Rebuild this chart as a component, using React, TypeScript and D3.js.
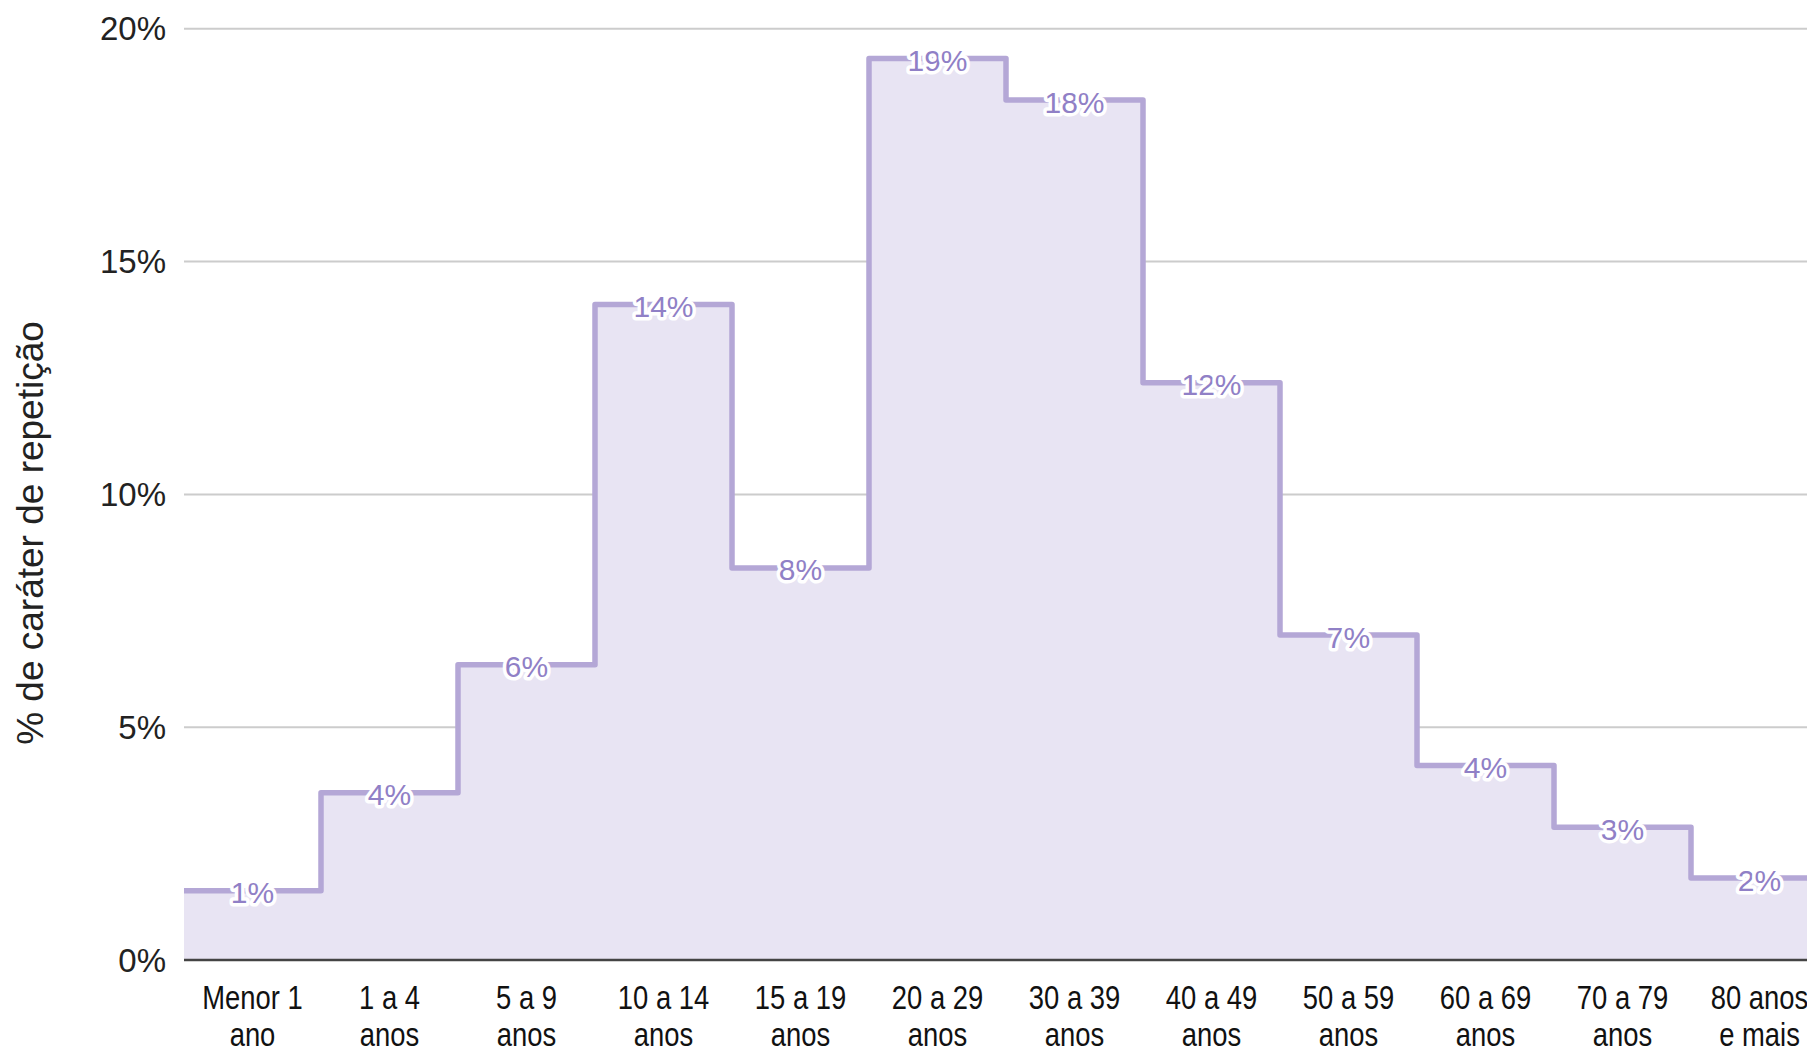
import * as d3 from "d3";

const categories = [
  ["Menor 1", "ano"],
  ["1 a 4", "anos"],
  ["5 a 9", "anos"],
  ["10 a 14", "anos"],
  ["15 a 19", "anos"],
  ["20 a 29", "anos"],
  ["30 a 39", "anos"],
  ["40 a 49", "anos"],
  ["50 a 59", "anos"],
  ["60 a 69", "anos"],
  ["70 a 79", "anos"],
  ["80 anos", "e mais"],
];
const values = [1.49, 3.59, 6.34, 14.08, 8.42, 19.36, 18.47, 12.4, 6.98, 4.18, 2.85, 1.76];
const yTicks = [0, 5, 10, 15, 20];
const yTitle = "% de caráter de repetição";

const W = 1807;
const H = 1052;
const LINE = "#b4a7d6";
const FILL = "#e8e4f3";
const LABEL = "#9080c6";

export default function App() {
  const keys = categories.map((c) => c.join(" "));
  const x = d3.scaleBand().domain(keys).range([184, 184 + 137 * 12]).padding(0);
  const y = d3.scaleLinear().domain([0, 20]).range([960, 28.8]);

  // stepped outline: each category spans its full band
  const pts: [number, number][] = [];
  keys.forEach((k, i) => {
    const x0 = x(k)!;
    pts.push([x0, y(values[i])], [x0 + x.bandwidth(), y(values[i])]);
  });
  const line = d3.line<[number, number]>().x((d) => d[0]).y((d) => d[1]);
  const area = d3
    .area<[number, number]>()
    .x((d) => d[0])
    .y0(y(0))
    .y1((d) => d[1]);

  const [x0, x1] = [184, W];

  return (
    <div style={{ position: "fixed", left: 0, top: 0, width: W, height: H, overflow: "hidden", background: "#fff" }}>
      <svg width={W} height={H} style={{ display: "block" }}>
        {yTicks.map((t) =>
          t === 0 ? null : (
            <line key={t} x1={x0} x2={x1} y1={y(t)} y2={y(t)} stroke="#cccccc" strokeWidth={2} />
          )
        )}
        {yTicks.map((t) => (
          <text
            key={"l" + t}
            x={166}
            y={y(t)}
            textAnchor="end"
            dominantBaseline="central"
            fontFamily="'Liberation Sans', Arial, sans-serif"
            fontSize={33}
            fill="#222"
          >
            {t}%
          </text>
        ))}
        <text
          transform={`translate(43,533) rotate(-90)`}
          textAnchor="middle"
          fontFamily="'Liberation Sans', Arial, sans-serif"
          fontSize={37}
          fill="#222"
        >
          {yTitle}
        </text>

        <path d={area(pts)!} fill={FILL} />
        <path d={line(pts)!} fill="none" stroke={LINE} strokeWidth={5.5} strokeLinejoin="round" />
        <line x1={x0} x2={x1} y1={y(0)} y2={y(0)} stroke="#444" strokeWidth={2.5} />

        {keys.map((k, i) => (
          <text
            key={"v" + k}
            x={x(k)! + x.bandwidth() / 2}
            y={y(values[i]) + 2}
            textAnchor="middle"
            dominantBaseline="central"
            fontFamily="'Liberation Sans', Arial, sans-serif"
            fontSize={30}
            fill={LABEL}
            stroke="#fff"
            strokeWidth={7}
            strokeLinejoin="round"
            paintOrder="stroke"
          >
            {Math.round(values[i])}%
          </text>
        ))}

        {categories.map((c, i) => (
          <g key={"c" + i} transform={`translate(${x(keys[i])! + x.bandwidth() / 2},0) scale(0.83,1)`}>
            <text
              textAnchor="middle"
              fontFamily="'Liberation Sans', Arial, sans-serif"
              fontSize={33}
              fill="#111"
            >
              <tspan x={0} y={1009}>
                {c[0]}
              </tspan>
              <tspan x={0} y={1046}>
                {c[1]}
              </tspan>
            </text>
          </g>
        ))}
      </svg>
    </div>
  );
}
